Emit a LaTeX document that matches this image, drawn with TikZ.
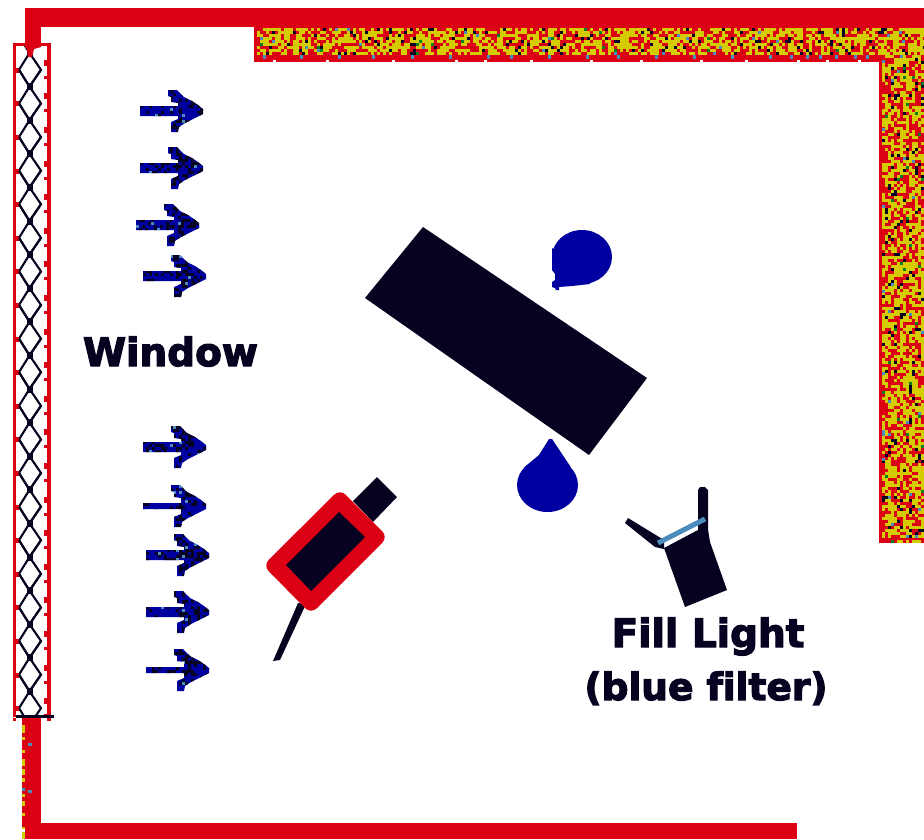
\documentclass[tikz,border=0pt]{standalone}
\usepackage{fontspec}
\setmainfont{DejaVu Sans}
\newfontfamily\heavyfont[BoldFeatures={FakeBold=3.2}]{DejaVu Sans}
\definecolor{wallred}{RGB}{220,0,20}
\definecolor{inkdark}{RGB}{6,3,33}
\definecolor{dropblue}{RGB}{0,0,160}
\definecolor{steelb}{RGB}{75,140,188}
\definecolor{wallyellow}{RGB}{212,204,0}
\definecolor{wallgreen}{RGB}{10,128,32}
\tikzset{
  wallfill/.style={fill=wallred},
  darkfill/.style={fill=inkdark},
  bluefill/.style={fill=dropblue},
  lattice/.style={draw=inkdark,line width=2.1pt,line join=miter},
  labeltext/.style={font=\heavyfont\bfseries\fontsize{39}{39}\selectfont,text=inkdark,anchor=base,inner sep=0pt,outer sep=0pt},
}
\newcommand\wallcell[2]{%
  \pgfmathrandominteger{\rr}{0}{99}%
  \ifnum\rr<52 \fill[wallyellow] (#1,#2) rectangle ++(3,3);
  \else\ifnum\rr<58 \fill[inkdark] (#1,#2) rectangle ++(3,3);
  \else\ifnum\rr<59 \fill[wallgreen] (#1,#2) rectangle ++(3,3);
  \else\ifnum\rr<60 \fill[steelb] (#1,#2) rectangle ++(3,3);
  \fi\fi\fi\fi}
\newcommand\arrowshape[1]{(0,-#1) -- (38,-#1) -- (38,-8) -- (31,-9) -- (31,-14) -- (28,-15) -- (28,-21) -- (37,-21) -- (44,-14) -- (52,-10) -- (58,-6) -- (63,-2) -- (63,3) -- (53,8) -- (45,12) -- (39,16) -- (38,21) -- (31,21) -- (31,11) -- (38,8) -- (38,#1) -- (0,#1) -- cycle}
\newcommand\winarrow[3]{%
  \begin{scope}[shift={(#1,#2)}]
    \fill[bluefill] \arrowshape{#3};
    \begin{scope}
      \clip \arrowshape{#3};
      \foreach \i in {0,...,21}{\foreach \j in {-7,...,6}{%
        \pgfmathrandominteger{\rr}{0}{99}%
        \ifnum\i>10 \def\thr{36}\else\def\thr{26}\fi
        \ifnum\rr<\thr \fill[inkdark] (3*\i,3*\j) rectangle ++(3,3);
        \else\ifnum\rr>96 \fill[steelb] (3*\i,3*\j) rectangle ++(3,3);\fi\fi
      }}
    \end{scope}
  \end{scope}}
\begin{document}
\begin{tikzpicture}[x=1pt,y=-1pt]
\pgfmathsetseed{4242}
\useasboundingbox (0,0) rectangle (924,839);
\fill[white] (0,0) rectangle (924,839);
% walls
\fill[wallfill] (25,8) rectangle (924,27);
\fill[wallfill] (254,27) rectangle (924,62);
\fill[wallfill] (879,62) rectangle (924,543);
\fill[wallfill] (25,823) rectangle (797,839);
\fill[wallfill] (22,718) rectangle (41,829);
\fill[wallfill] (25,829) rectangle (41,839);
\fill[wallfill] (25,27) rectangle (41,45);
% wall texture
\foreach \i in {0,...,222}{\foreach \j in {0,...,8}{\wallcell{257+3*\i}{28+3*\j}}}
\foreach \i in {0,...,13}{\foreach \j in {0,...,160}{\wallcell{882+3*\i}{55+3*\j}}}
\foreach \i in {0,...,13}{\wallcell{882+3*\i}{540}}
\foreach \x in {263,300,338,372,411,449,487,510,548,586,617,655,693,731,769,790,806,819,835,854,866}
  {\fill[steelb] (\x,55) rectangle ++(3,4);}
\foreach \x in {273,326,392,455,484,530,590,640,700,745,797,826,858}
  {\fill[white] (\x,60) rectangle ++(3,2);}
\foreach \y in {60,128,205,290,372,430,458}
  {\fill[steelb] (882,\y) rectangle ++(3,3);}
% specks on lower left wall
\foreach \a/\b in {725/733,737/740,750/753,759/766,769/775,778/782,794/797,801/806,813/816,827/829,832/839}
  {\fill[wallyellow] (22,\a) rectangle (25,\b);}
\fill[steelb] (28,743) rectangle (32,746);
\fill[steelb] (28,790) rectangle (32,793);
\fill[steelb] (22,788) rectangle (25,791);
% window frame
\fill[wallfill] (13,43) rectangle (51,717);
\fill[white] (16,46) rectangle (47,715);
\begin{scope}
  \clip (16,46) rectangle (47,715);
  \foreach \k in {0,...,19}{
    \pgfmathsetmacro\ya{53+33.6*\k}
    \pgfmathsetmacro\yb{\ya+16.8}
    \pgfmathsetmacro\yc{\ya+33.6}
    \draw[lattice] (19,\ya-16.8) -- (29.5,\ya) -- (41,\yb) -- (29.5,\yc);
    \draw[lattice] (41,\ya-16.8) -- (29.5,\ya) -- (19,\yb) -- (29.5,\yc);
    \fill[inkdark] (26.5,\ya-3.5) rectangle (32.5,\ya+3.5);
    \fill[wallred] (16,\yb-2) rectangle (19,\yb+3);
    \fill[wallred] (44,\yb-10) rectangle (47,\yb-4);
    \fill[wallred] (44,\yb+6) rectangle (47,\yb+9);
  }
\end{scope}
\fill[wallfill] (25,43) -- (41,43) -- (41,47) -- (34,49) -- (32,57) -- (28,57) -- (27,49) -- (25,47) -- cycle;
\fill[darkfill] (16,715) rectangle (54,718);
\fill[wallfill] (13,718) rectangle (16,721);
\fill[wallfill] (47,718) rectangle (51,721);
% arrows
\winarrow{140}{111}{5}
\winarrow{140}{168}{5}
\winarrow{136}{225}{5}
\winarrow{143}{276}{5}
\winarrow{143}{447}{5}
\winarrow{143}{506}{3}
\winarrow{146}{555}{5}
\winarrow{146}{612}{5}
\winarrow{146}{670}{3}
% subject
\fill[darkfill] (423,227) -- (647,378) -- (589,455) -- (365,298) -- cycle;
% light drops
\fill[bluefill] (582,257) ellipse [x radius=30,y radius=27];
\fill[bluefill] (552,248) -- (552,270) -- (555,274) -- (555,280) -- (552,282) -- (552,287) -- (555,288) -- (556,290) -- (559,290) -- (559,287) -- (572,286) -- (590,284) -- (580,262) -- cycle;
\fill[bluefill] (547.5,485) ellipse [x radius=30.5,y radius=27];
\fill[bluefill] (549,439) -- (552,439) -- (571,467.5) -- (524,467.5) -- (539,455) -- cycle;
% camera
\fill[darkfill] (377,477) -- (397,497) -- (373,522) -- (353,501) -- cycle;
\fill[darkfill] (298,603) -- (306,604) -- (280,660) -- (273,661) -- cycle;
\fill[wallfill,rounded corners=8pt] (263,565.5) -- (340,489) -- (388,537) -- (311,614) -- cycle;
\fill[darkfill] (286,565) -- (339,512) -- (365,537) -- (311,591) -- cycle;
% fill light
\fill[darkfill] (664,548) -- (698,530) -- (708,530) -- (710,542) -- (727,590) -- (685,607) -- cycle;
\fill[darkfill] (698,536) -- (698,490) -- (700,487) -- (705,487) -- (708,490) -- (708,544) -- cycle;
\fill[darkfill] (628,518) -- (664,540) -- (664,549) -- (655,547) -- (625,523) -- cycle;
\draw[steelb,line width=5pt] (658,543) -- (705,519);
% labels
\node[labeltext] (windowlabel) at (170.5,366) {Window};
\node[labeltext] (filllabel) at (708,647) {Fill Light};
\node[labeltext,font=\heavyfont\bfseries\fontsize{37.5}{37.5}\selectfont] (filterlabel) at (706,700) {(blue f\kern0pt ilter)};
\end{tikzpicture}
\end{document}
